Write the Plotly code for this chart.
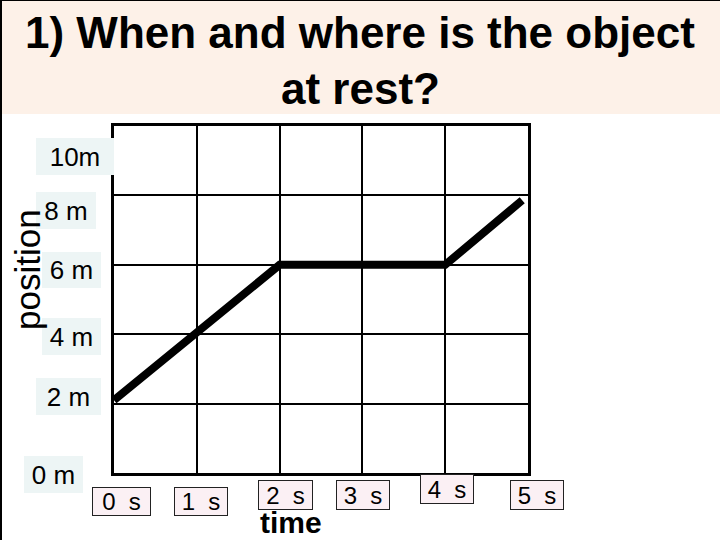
import plotly.graph_objects as go

# ---- data ----
time_s = [0, 2, 4, 4.93]
position_m = [2.1, 6, 6, 7.86]
time_tick_labels = ["0 s", "1 s", "2 s", "3 s", "4 s", "5 s"]
position_tick_labels = ["10m", "8 m", "6 m", "4 m", "2 m", "0 m"]
title_lines = ["1) When and where is the object", "at rest?"]

W, H = 720, 540
L, R, T, B = 114, 528, 126, 473  # plot area in pixels

def px(x):
    return (x - L) / (R - L)

def py(y):
    return (B - y) / (B - T)

fig = go.Figure()
fig.add_trace(go.Scatter(
    x=time_s, y=position_m, mode="lines",
    line=dict(color="black", width=8),
    hoverinfo="skip", showlegend=False,
))

FONT = "Liberation Sans, Arial, sans-serif"

shapes = [
    # title band
    dict(type="rect", xref="paper", yref="paper", x0=px(0), x1=px(W), y0=py(114), y1=py(0),
         fillcolor="#fdf1e8", line=dict(width=0), layer="below"),
    # left border
    dict(type="line", xref="paper", yref="paper", x0=px(1), x1=px(1), y0=py(0), y1=py(H),
         line=dict(color="black", width=2)),
    # top border
    dict(type="line", xref="paper", yref="paper", x0=px(0), x1=px(W), y0=py(0.5), y1=py(0.5),
         line=dict(color="black", width=1)),
]

annotations = []
# title
annotations.append(dict(text="<b>" + title_lines[0] + "</b>", xref="paper", yref="paper",
                        x=px(360), y=py(33), showarrow=False, xanchor="center", yanchor="middle",
                        font=dict(family=FONT, size=44, color="black")))
annotations.append(dict(text="<b>" + title_lines[1] + "</b>", xref="paper", yref="paper",
                        x=px(360), y=py(88), showarrow=False, xanchor="center", yanchor="middle",
                        font=dict(family=FONT, size=44, color="black")))

# position tick-label boxes (center x, center y, width, height)
ybox = [(75, 156.5, 78, 37), (66, 210.5, 60, 37), (71.5, 270, 59, 36),
        (71.5, 336.5, 59, 37), (68.5, 396.5, 65, 37), (53.5, 474.5, 59, 37)]
for lab, (cx, cy, w, h) in zip(position_tick_labels, ybox):
    annotations.append(dict(text=lab.replace(" ", "\u00a0"), xref="paper", yref="paper",
                            x=px(cx), y=py(cy), showarrow=False, xanchor="center", yanchor="middle",
                            width=w, height=h, bgcolor="#edf5f5", borderwidth=0, borderpad=0,
                            font=dict(family=FONT, size=26, color="black")))

# time tick-label boxes
xbox = [(121.5, 501.5, 59, 29), (201, 501.5, 54, 29), (285.5, 495, 55, 30),
        (363, 495, 54, 30), (447, 489, 54, 30), (537, 495, 54, 30)]
for lab, (cx, cy, w, h) in zip(time_tick_labels, xbox):
    annotations.append(dict(text=lab.replace(" ", "\u00a0\u00a0"), xref="paper", yref="paper",
                            x=px(cx), y=py(cy), showarrow=False, xanchor="center", yanchor="middle",
                            width=w - 2, height=h - 2, bgcolor="#fbf0f4", bordercolor="#222",
                            borderwidth=1, borderpad=0,
                            font=dict(family=FONT, size=24, color="black")))

# axis titles (drawn on top)
annotations.append(dict(text="position", xref="paper", yref="paper", x=px(27), y=py(270),
                        showarrow=False, textangle=-90, xanchor="center", yanchor="middle",
                        font=dict(family=FONT, size=35, color="black")))
annotations.append(dict(text="<b>time</b>", xref="paper", yref="paper", x=px(291), y=py(522),
                        showarrow=False, xanchor="center", yanchor="middle",
                        font=dict(family=FONT, size=30, color="black")))

fig.update_layout(
    width=W, height=H,
    margin=dict(l=L, r=W - R, t=T, b=H - B, pad=0),
    paper_bgcolor="white", plot_bgcolor="white",
    xaxis=dict(range=[0, 5], dtick=1, tick0=0, showticklabels=False, ticks="",
               showgrid=True, gridcolor="black", gridwidth=2, zeroline=False,
               showline=True, linecolor="black", linewidth=3, mirror=True, fixedrange=True),
    yaxis=dict(range=[0, 10], dtick=2, tick0=0, showticklabels=False, ticks="",
               showgrid=True, gridcolor="black", gridwidth=2, zeroline=False,
               showline=True, linecolor="black", linewidth=3, mirror=True, fixedrange=True),
    shapes=shapes, annotations=annotations, showlegend=False,
)

fig.write_html("out.html", config={"displayModeBar": False},
               post_script="document.body.style.margin='0';document.body.style.overflow='hidden';")
